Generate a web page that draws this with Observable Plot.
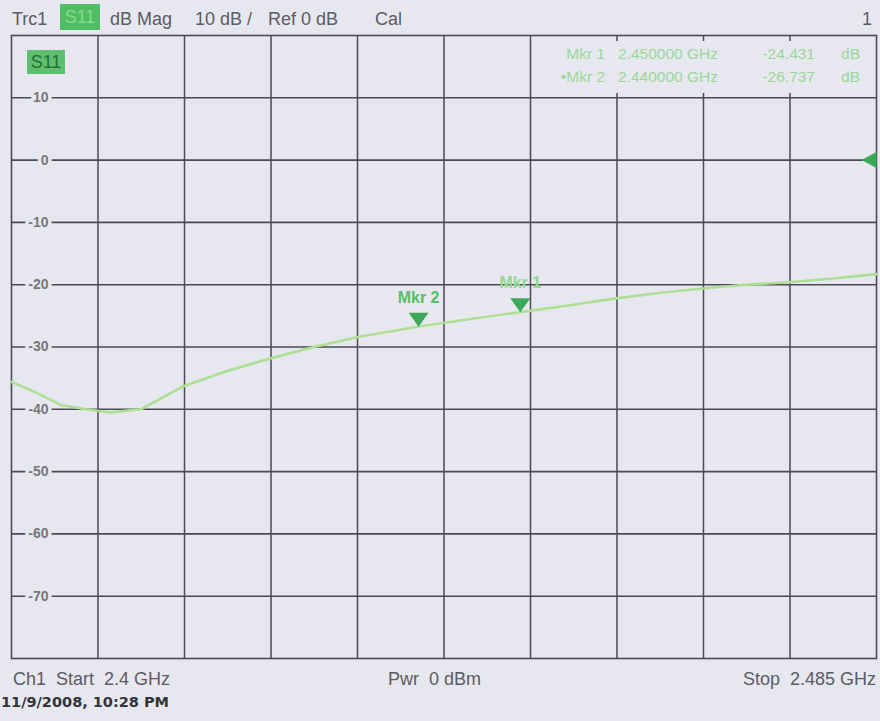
<!DOCTYPE html>
<html><head><meta charset="utf-8">
<script src="https://cdn.jsdelivr.net/npm/d3@7"></script>
<script src="https://cdn.jsdelivr.net/npm/@observablehq/plot@0.6"></script>
<style>
body{margin:0;background:#e7e8ef;}
#page{position:relative;width:880px;height:721px;overflow:hidden;font-family:"Liberation Sans",Arial,sans-serif;color:#5b5b63;background:#e7e8ef;}
.t{position:absolute;font-size:18px;line-height:1;white-space:pre;}
#chart{position:absolute;left:0;top:30px;}
#hdrS11{position:absolute;left:60px;top:4px;width:40px;height:26px;background:#4fbd63;color:#86dc8f;font-size:18px;line-height:26px;text-align:center;}
#boxS11{position:absolute;left:27px;top:50px;width:38px;height:24px;background:#5cc06f;color:#2b6e35;font-size:18px;line-height:24px;text-align:center;}
#readout{position:absolute;left:532px;top:41px;width:342px;height:52px;background:#e7e8ef;color:#9bd79a;font-size:15.5px;}
#readout span{position:absolute;line-height:1;white-space:pre;}
#date{position:absolute;left:1px;top:695px;font-family:"DejaVu Sans",sans-serif;font-weight:bold;font-size:14.5px;line-height:1;color:#33333a;white-space:pre;}
</style>
</head><body>
<div id="page">
  <div class="t" style="left:12px;top:10px;">Trc1</div>
  <div id="hdrS11">S11</div>
  <div class="t" style="left:110px;top:10px;">dB Mag</div>
  <div class="t" style="left:195px;top:10px;">10 dB /</div>
  <div class="t" style="left:268px;top:10px;">Ref 0 dB</div>
  <div class="t" style="left:375px;top:10px;">Cal</div>
  <div class="t" style="left:862px;top:10px;">1</div>
  <div id="chart"></div>
  <div id="boxS11">S11</div>
  <div id="readout"></div>
  <div class="t" style="left:13px;top:670px;">Ch1  Start  2.4 GHz</div>
  <div class="t" style="left:388px;top:670px;">Pwr  0 dBm</div>
  <div class="t" style="right:4px;top:670px;">Stop  2.485 GHz</div>
  <div id="date">11/9/2008, 10:28 PM</div>
</div>
<script>
// ---- data ----
const freqGHz = [2.400, 2.4028, 2.4048, 2.4073, 2.4097, 2.4127, 2.4169, 2.4211, 2.4255, 2.4297, 2.4343, 2.4400, 2.4451, 2.4500, 2.4549, 2.4594, 2.4638, 2.4679, 2.4721, 2.4764, 2.4807, 2.4850];
const s11dB   = [-35.6, -37.6, -39.3, -40.0, -40.5, -40.0, -36.3, -33.9, -31.8, -30.0, -28.3, -26.7, -25.5, -24.4, -23.3, -22.2, -21.3, -20.6, -20.0, -19.6, -19.0, -18.3];
const markerNames = ["Mkr 2", "Mkr 1"];
const markerFreq  = [2.44, 2.45];
const markerDb    = [-26.737, -24.431];
const readoutRows = [
  ["Mkr 1", "2.450000 GHz", "-24.431", "dB"],
  ["\u2022Mkr 2", "2.440000 GHz", "-26.737", "dB"]
];
const yTicks = [10, 0, -10, -20, -30, -40, -50, -60, -70];
const xGrid = [2.4085, 2.417, 2.4255, 2.434, 2.4425, 2.451, 2.4595, 2.468, 2.4765];
const refLevel = [0];
const startGHz = 2.4, stopGHz = 2.485;

const trace = freqGHz.map((f, i) => ({f, db: s11dB[i]}));
const markers = markerNames.map((n, i) => ({name: n, f: markerFreq[i], db: markerDb[i]}));

const downTri = {draw(ctx){ ctx.moveTo(-10,-14); ctx.lineTo(10,-14); ctx.lineTo(0,0); ctx.closePath(); }};
const leftTri = {draw(ctx){ ctx.moveTo(0,-8); ctx.lineTo(0,8); ctx.lineTo(-15,0); ctx.closePath(); }};
const bg = "#e7e8ef", grid = "#4a4a55";

const chart = Plot.plot({
  width: 880, height: 636,
  marginLeft: 11, marginRight: 4, marginTop: 5, marginBottom: 8,
  style: {background: "transparent", overflow: "visible"},
  x: {domain: [startGHz, stopGHz], axis: null},
  y: {domain: [-80, 20], axis: null},
  marks: [
    Plot.ruleX(xGrid, {stroke: grid, strokeWidth: 1.5}),
    Plot.ruleY(yTicks, {stroke: grid, strokeWidth: 1.6}),
    Plot.frame({stroke: grid, strokeWidth: 1.6}),
    Plot.text(yTicks, {x: () => startGHz, y: d => d, text: d => String(d), dx: 37, textAnchor: "end",
      fill: "#76767e", stroke: bg, strokeWidth: 7, fontWeight: "bold", fontSize: 14,
      fontFamily: "Liberation Sans, Arial, sans-serif"}),
    Plot.line(trace, {x: "f", y: "db", stroke: "#aedf94", strokeWidth: 2.6}),
    Plot.dot(markers, {x: "f", y: "db", symbol: () => downTri, r: 7, fill: "#3ca95a", stroke: "none"}),
    Plot.text(markers, {x: "f", y: "db", text: "name", dy: -29, fill: d => d.name === "Mkr 2" ? "#58bd68" : "#93d993",
      fontWeight: "bold", fontSize: 16, fontFamily: "Liberation Sans, Arial, sans-serif"}),
    Plot.dot(refLevel, {x: () => stopGHz, y: d => d, symbol: () => leftTri, r: 7, fill: "#3ca95a", stroke: "none"})
  ]
});
document.getElementById("chart").appendChild(chart);

// marker readout table
const ro = document.getElementById("readout");
const colRight = [73, null, 283, 328];   // right edges inside box
readoutRows.forEach((row, r) => {
  const top = 5 + r * 23;
  row.forEach((txt, c) => {
    const s = document.createElement("span");
    s.textContent = txt;
    s.style.top = top + "px";
    if (c === 1) s.style.left = "86px";
    else s.style.right = (342 - colRight[c]) + "px";
    ro.appendChild(s);
  });
});
</script>
</body></html>
